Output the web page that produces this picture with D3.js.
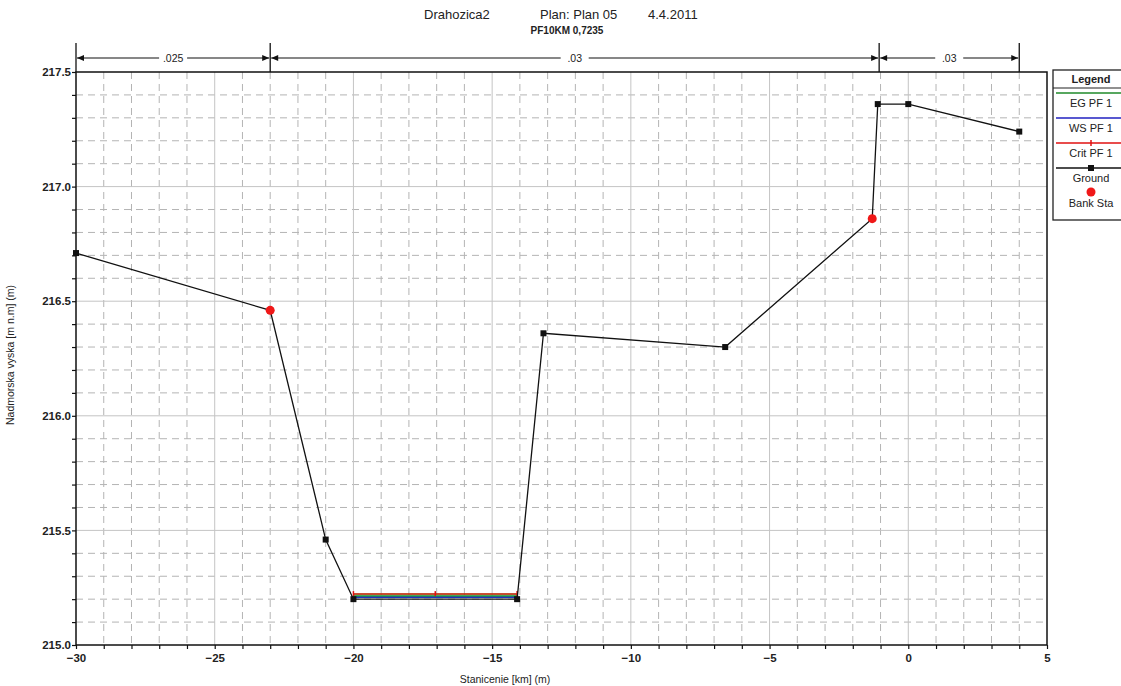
<!DOCTYPE html>
<html>
<head>
<meta charset="utf-8">
<script src="https://cdn.jsdelivr.net/npm/d3@7"></script>
<style>
  body { margin: 0; background: #fff; }
  svg { display: block; font-family: "Liberation Sans", Arial, sans-serif; }
</style>
</head>
<body>
<svg id="chart" width="1121" height="686"></svg>
<script>
// --- data ---
const groundSta  = [-30, -23.0, -21.0, -20.0, -14.1, -13.15, -6.6, -1.3, -1.1, 0, 4];
const groundElev = [216.71, 216.46, 215.46, 215.20, 215.20, 216.36, 216.30, 216.86, 217.36, 217.36, 217.24];

const bankSta  = [-23.0, -1.3];
const bankElev = [216.46, 216.86];

// water profiles (only over the channel bottom)
const waterSta  = [-20.0, -17.05, -14.1];
const wsElev    = [215.209, 215.209, 215.209];
const egElev    = [215.215, 215.215, 215.215];
const critElev  = [215.222, 215.222, 215.222];

// manning n regions along the top
const nBreaks = [-30, -23.0, -1.05, 4];
const nValues = [".025", ".03", ".03"];

const xTicksMajor = [-30, -25, -20, -15, -10, -5, 0, 5];
const yTicksMajor = [215.0, 215.5, 216.0, 216.5, 217.0, 217.5];

const legendItems = ["EG PF 1", "WS PF 1", "Crit PF 1", "Ground", "Bank Sta"];

// --- layout ---
const svg = d3.select("#chart");
const pLeft = 76, pRight = 1047, pTop = 72, pBottom = 645;

const x = d3.scaleLinear().domain([-30, 5]).range([pLeft, pRight]);
const y = d3.scaleLinear().domain([215, 217.5]).range([pBottom, pTop]);

// grid: minor dashed then major solid
const grid = svg.append("g");
const xMinor = d3.range(-29, 5, 1).filter(v => v % 5 !== 0);
const yMinor = d3.range(1, 25).filter(i => i % 5 !== 0).map(i => 215 + i * 0.1);

grid.selectAll("line.xminor").data(xMinor).join("line")
    .attr("x1", d => x(d)).attr("x2", d => x(d)).attr("y1", pTop).attr("y2", pBottom)
    .attr("stroke", "#b4b4b4").attr("stroke-dasharray", "7,5").attr("stroke-width", 1);
grid.selectAll("line.yminor").data(yMinor).join("line")
    .attr("y1", d => y(d)).attr("y2", d => y(d)).attr("x1", pLeft).attr("x2", pRight)
    .attr("stroke", "#b4b4b4").attr("stroke-dasharray", "7,5").attr("stroke-width", 1);
grid.selectAll("line.xmajor").data(xTicksMajor.slice(1, -1)).join("line")
    .attr("x1", d => x(d)).attr("x2", d => x(d)).attr("y1", pTop).attr("y2", pBottom)
    .attr("stroke", "#c4c4c4").attr("stroke-width", 1);
grid.selectAll("line.ymajor").data(yTicksMajor.slice(1, -1)).join("line")
    .attr("y1", d => y(d)).attr("y2", d => y(d)).attr("x1", pLeft).attr("x2", pRight)
    .attr("stroke", "#c4c4c4").attr("stroke-width", 1);

// axes
const xAxis = d3.axisBottom(x).tickValues(d3.range(-30, 6, 1)).tickSize(4)
    .tickFormat(d => d % 5 === 0 ? d3.format("d")(d) : "");
const yAxis = d3.axisLeft(y).tickValues(d3.range(0, 26).map(i => 215 + i * 0.1)).tickSize(4)
    .tickFormat((d, i) => i % 5 === 0 ? d3.format(".1f")(d) : "");

const gx = svg.append("g").attr("transform", `translate(0,${pBottom})`).call(xAxis);
const gy = svg.append("g").attr("transform", `translate(${pLeft},0)`).call(yAxis);
[gx, gy].forEach(g => {
    g.select(".domain").remove();
    g.selectAll("line").attr("stroke", "#111").attr("stroke-width", 1.2);
    g.selectAll("text").attr("fill", "#222").attr("font-size", 11.5).attr("font-weight", "bold")
        .attr("font-family", "'Liberation Sans Narrow', 'Liberation Sans', Arial, sans-serif");
});
gx.selectAll("text").attr("dy", "0.9em");
gy.selectAll("text").attr("dx", "2");

// frame
svg.append("rect").attr("x", pLeft).attr("y", pTop)
    .attr("width", pRight - pLeft).attr("height", pBottom - pTop)
    .attr("fill", "none").attr("stroke", "#111").attr("stroke-width", 1.5);

// manning n bar
const nBar = svg.append("g");
const barY = 58;
nBar.selectAll("line.div").data(nBreaks).join("line")
    .attr("x1", d => x(d)).attr("x2", d => x(d)).attr("y1", 43).attr("y2", pTop)
    .attr("stroke", "#111").attr("stroke-width", 1.3);
const segs = nValues.map((v, i) => ({ a: nBreaks[i], b: nBreaks[i + 1], v }));
nBar.selectAll("line.seg").data(segs).join("line")
    .attr("x1", d => x(d.a) + 1).attr("x2", d => x(d.b) - 1).attr("y1", barY).attr("y2", barY)
    .attr("stroke", "#111").attr("stroke-width", 1.2);
const arrow = (px, dir) => `M${px},${barY}L${px + dir * 7},${barY - 3}L${px + dir * 7},${barY + 3}Z`;
segs.forEach(s => {
    nBar.append("path").attr("d", arrow(x(s.a) + 1, 1)).attr("fill", "#111");
    nBar.append("path").attr("d", arrow(x(s.b) - 1, -1)).attr("fill", "#111");
});
const nLabels = nBar.selectAll("g.lab").data(segs).join("g")
    .attr("transform", d => `translate(${(x(d.a) + x(d.b)) / 2},${barY})`);
nLabels.append("rect").attr("x", -14).attr("y", -6).attr("width", 28).attr("height", 12).attr("fill", "#fff");
nLabels.append("text").attr("text-anchor", "middle").attr("dy", "0.35em")
    .attr("font-size", 10.5).attr("fill", "#222").text(d => d.v);

// water lines
const line = d3.line().x(d => x(d[0])).y(d => y(d[1]));
const wsPts = waterSta.map((s, i) => [s, wsElev[i]]);
const egPts = waterSta.map((s, i) => [s, egElev[i]]);
const critPts = waterSta.map((s, i) => [s, critElev[i]]);
svg.append("path").attr("d", line(wsPts)).attr("fill", "none").attr("stroke", "#2030c0").attr("stroke-width", 2);
svg.append("path").attr("d", line(egPts)).attr("fill", "none").attr("stroke", "#1f9a3a")
    .attr("stroke-width", 2).attr("stroke-opacity", 0.85);
svg.append("path").attr("d", line(critPts)).attr("fill", "none").attr("stroke", "#c03010")
    .attr("stroke-width", 2).attr("stroke-opacity", 0.85);
svg.selectAll("line.crit").data(critPts).join("line")
    .attr("x1", d => x(d[0])).attr("x2", d => x(d[0]))
    .attr("y1", d => y(d[1]) - 3).attr("y2", d => y(d[1]) + 2)
    .attr("stroke", "#e01010").attr("stroke-width", 1.5);

// ground
const gPts = groundSta.map((s, i) => [s, groundElev[i]]);
svg.append("path").attr("d", line(gPts)).attr("fill", "none").attr("stroke", "#111").attr("stroke-width", 1.3);
svg.selectAll("rect.gpt").data(gPts).join("rect")
    .attr("x", d => x(d[0]) - 3).attr("y", d => y(d[1]) - 3).attr("width", 6).attr("height", 6)
    .attr("fill", "#111");

// bank stations
svg.selectAll("circle.bank").data(bankSta.map((s, i) => [s, bankElev[i]])).join("circle")
    .attr("cx", d => x(d[0])).attr("cy", d => y(d[1])).attr("r", 4.5).attr("fill", "#f01818");

// titles
const title = svg.append("g").attr("font-size", 13).attr("fill", "#222");
title.append("text").attr("x", 424).attr("y", 19).text("Drahozica2");
title.append("text").attr("x", 540).attr("y", 19).text("Plan: Plan 05");
title.append("text").attr("x", 648).attr("y", 19).text("4.4.2011");
svg.append("text").attr("x", 567).attr("y", 34).attr("text-anchor", "middle")
    .attr("font-size", 10).attr("font-weight", "bold").attr("fill", "#222").text("PF10KM 0,7235");

svg.append("text").attr("x", 505).attr("y", 683).attr("text-anchor", "middle")
    .attr("font-size", 10.5).attr("fill", "#222").text("Stanicenie [km] (m)");
svg.append("text").attr("transform", "translate(14,355) rotate(-90)").attr("text-anchor", "middle")
    .attr("font-size", 10.5).attr("fill", "#222").text("Nadmorska vyska [m n.m] (m)");

// legend
const lg = svg.append("g");
const lgX = 1053, lgCx = 1091;
lg.append("rect").attr("x", lgX).attr("y", 70).attr("width", 100).attr("height", 150)
    .attr("fill", "#fff").attr("stroke", "#222").attr("stroke-width", 1.3);
lg.append("line").attr("x1", lgX).attr("x2", lgX + 100).attr("y1", 88).attr("y2", 88)
    .attr("stroke", "#222").attr("stroke-width", 1.2);
lg.append("text").attr("x", lgCx).attr("y", 83).attr("text-anchor", "middle")
    .attr("font-size", 11).attr("font-weight", "bold").attr("fill", "#222").text("Legend");
const lineColors = ["#1f8a2a", "#2020c0", "#e01010", "#111"];
const rowY = d3.scaleLinear().domain([0, 1]).range([93, 118]);
lg.selectAll("line.sym").data(lineColors).join("line")
    .attr("x1", lgX + 3).attr("x2", lgX + 100).attr("y1", (d, i) => rowY(i)).attr("y2", (d, i) => rowY(i))
    .attr("stroke", d => d).attr("stroke-width", 1.4);
lg.append("line").attr("x1", lgCx).attr("x2", lgCx).attr("y1", rowY(2) - 3).attr("y2", rowY(2) + 3)
    .attr("stroke", "#e01010").attr("stroke-width", 1.5);
lg.append("rect").attr("x", lgCx - 3).attr("y", rowY(3) - 3).attr("width", 6).attr("height", 6).attr("fill", "#111");
lg.append("circle").attr("cx", lgCx).attr("cy", rowY(4) - 1).attr("r", 4.5).attr("fill", "#f01818");
lg.selectAll("text.item").data(legendItems).join("text")
    .attr("x", lgCx).attr("y", (d, i) => rowY(i) + 14).attr("text-anchor", "middle")
    .attr("font-size", 11).attr("fill", "#222").text(d => d);
</script>
</body>
</html>
